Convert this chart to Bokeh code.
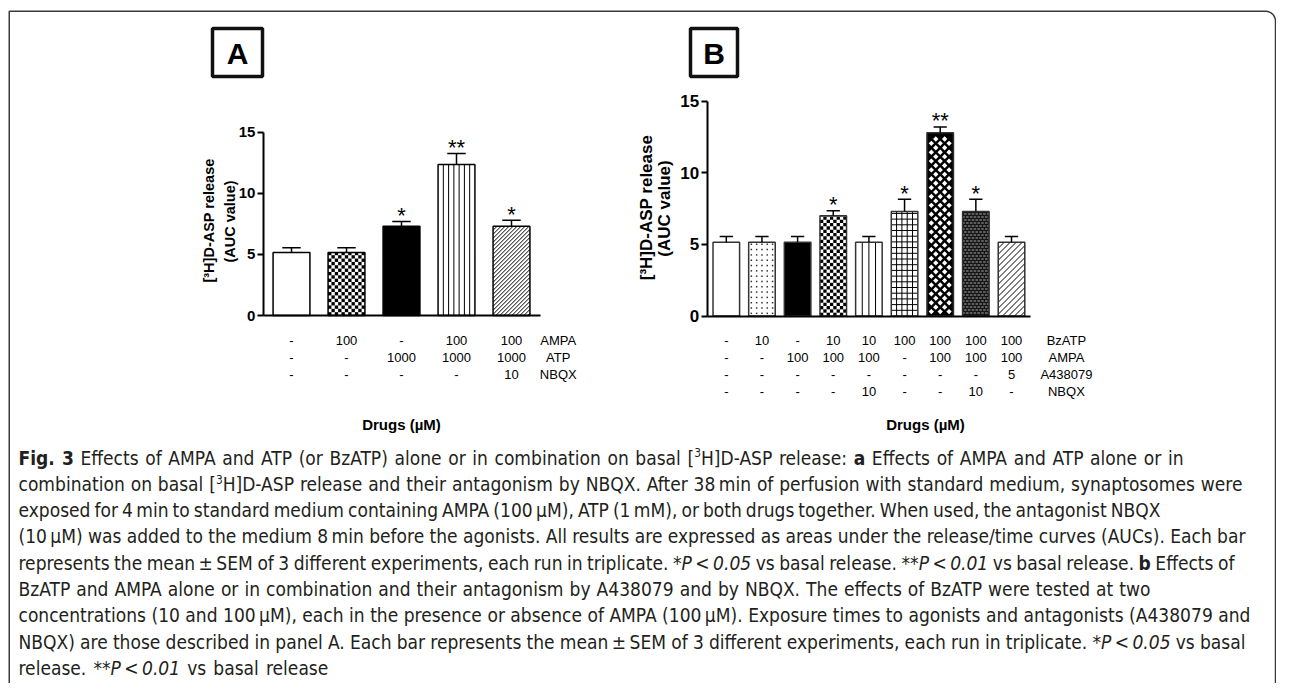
import os
import re
import subprocess
import numpy as np
from bokeh.plotting import figure
from bokeh.models import Range1d, LinearAxis, FixedTicker, ColumnDataSource
from bokeh.core.properties import value
from bokeh.embed import file_html
from bokeh.resources import INLINE

# ---------------- data ----------------
y_ticks = [0, 5, 10, 15]

a_means = [5.15, 5.15, 7.3, 12.35, 7.3]
a_sems = [0.4, 0.4, 0.4, 0.9, 0.5]
a_stars = ["", "", "*", "**", "*"]
a_row_names = ["AMPA", "ATP", "NBQX"]
a_table = [
    ["-", "100", "-", "100", "100"],
    ["-", "-", "1000", "1000", "1000"],
    ["-", "-", "-", "-", "10"],
]

b_means = [5.15, 5.15, 5.15, 7.0, 5.15, 7.3, 12.8, 7.3, 5.15]
b_sems = [0.4, 0.4, 0.4, 0.35, 0.4, 0.85, 0.4, 0.85, 0.4]
b_stars = ["", "", "", "*", "", "*", "**", "*", ""]
b_row_names = ["BzATP", "AMPA", "A438079", "NBQX"]
b_table = [
    ["-", "10", "-", "10", "10", "100", "100", "100", "100"],
    ["-", "-", "100", "100", "100", "-", "100", "100", "100"],
    ["-", "-", "-", "-", "-", "-", "-", "-", "5"],
    ["-", "-", "-", "-", "10", "-", "-", "10", "-"],
]

y_label_lines = ["[\u00b3H]D-ASP release", "(AUC value)"]
x_title = "Drugs (\u00b5M)"
panel_letters = ["A", "B"]

caption_lines = [
    [("Fig. 3", "bold"), (" Effects of AMPA and ATP (or BzATP) alone or in combination on basal [", "normal"),
     ("3", "sup"), ("H]D-ASP release: ", "normal"), ("a", "bold"), (" Effects of AMPA and ATP alone or in", "normal")],
    [("combination on basal [", "normal"), ("3", "sup"),
     ("H]D-ASP release and their antagonism by NBQX. After 38\u2009min of perfusion with standard medium, synaptosomes were", "normal")],
    [("exposed for 4\u2009min to standard medium containing AMPA (100\u2009\u00b5M), ATP (1\u2009mM), or both drugs together. When used, the antagonist NBQX", "normal")],
    [("(10\u2009\u00b5M) was added to the medium 8\u2009min before the agonists. All results are expressed as areas under the release/time curves (AUCs). Each bar", "normal")],
    [("represents the mean\u2009\u00b1\u2009SEM of 3 different experiments, each run in triplicate. ", "normal"), ("*P\u2009<\u20090.05", "italic"),
     (" vs basal release. ", "normal"), ("**P\u2009<\u20090.01", "italic"), (" vs basal release. ", "normal"), ("b", "bold"), (" Effects of", "normal")],
    [("BzATP and AMPA alone or in combination and their antagonism by A438079 and by NBQX. The effects of BzATP were tested at two", "normal")],
    [("concentrations (10 and 100\u2009\u00b5M), each in the presence or absence of AMPA (100\u2009\u00b5M). Exposure times to agonists and antagonists (A438079 and", "normal")],
    [("NBQX) are those described in panel A. Each bar represents the mean\u2009\u00b1\u2009SEM of 3 different experiments, each run in triplicate. ", "normal"),
     ("*P\u2009<\u20090.05", "italic"), (" vs basal", "normal")],
    [("release. ", "normal"), ("**P\u2009<\u20090.01", "italic"), (" vs basal release", "normal")],
]
# approximate right ends of the caption lines in the reference
caption_line_ends = [1183, 1242, 1160, 1245, 1234, 1150, 1250, 1245, 390]

# ---------------- styles ----------------
a_fills = ["white", "white", "black", "white", "white"]
a_textures = [None, ("checker", 3.5), None, ("vlines", 5.3), ("rdiag", 4.0)]
b_fills = ["white", "white", "black", "white", "white", "white", "black", "#151515", "white"]
b_textures = [None, ("dots", 5.0), None, ("checker", 3.4), ("vlines", 6.6), ("grid", 5.7),
              ("diamonds", 8.9), ("brick", 4.0), ("rdiag", 6.0)]

# ---------------- canvas ----------------
W, H = 1276, 683

p = figure(width=W, height=H, x_range=Range1d(0, W), y_range=Range1d(H, 0),
           x_axis_type=None, y_axis_type=None, output_backend="svg", toolbar_location=None,
           min_border=0, outline_line_color=None,
           background_fill_color="white", border_fill_color="white")

PANEL = {"A": dict(x0=291.0, dx=55.0, y0=315.0, dy=12.22),
         "B": dict(x0=725.8, dx=35.65, y0=315.5, dy=14.32)}


def panel_ranges(x0, dx, y0, dy):
    return Range1d(-x0 / dx, (W - x0) / dx), Range1d((y0 - H) / dy, y0 / dy)


xA, yA = panel_ranges(**PANEL["A"])
xB, yB = panel_ranges(**PANEL["B"])
p.extra_x_ranges = {"xA": xA, "xB": xB}
p.extra_y_ranges = {"yA": yA, "yB": yB}

FONT = "Liberation Sans"


def texture_marks(means, bar_w, dx, dy, specs):
    segs = dict(x0=[], y0=[], x1=[], y1=[])
    quads = dict(left=[], right=[], bottom=[], top=[])
    dots = dict(x=[], y=[])
    dias = dict(x=[], y=[])
    dashes = dict(x=[], y=[])
    for i, (m, spec) in enumerate(zip(means, specs)):
        if spec is None:
            continue
        kind, s = spec
        left = i - bar_w / 2
        Wpx, Hpx = bar_w * dx, m * dy

        def X(px):
            return left + px / dx

        def Y(py):
            return py / dy

        def seg(a, b, c, d):
            segs["x0"].append(a); segs["y0"].append(b); segs["x1"].append(c); segs["y1"].append(d)

        if kind in ("vlines", "grid"):
            n = max(1, int(round(Wpx / s)))
            for k in range(1, n):
                seg(X(k * Wpx / n), 0, X(k * Wpx / n), m)
        if kind == "grid":
            j = 1
            while j * s < Hpx - 1:
                seg(X(0), Y(j * s), X(Wpx), Y(j * s))
                j += 1
        if kind == "rdiag":
            for b in np.arange(-Hpx, Wpx, s):
                xa, xb = max(0.0, b), min(Wpx, Hpx + b)
                if xb > xa:
                    seg(X(xa), Y(xa - b), X(xb), Y(xb - b))
        if kind == "checker":
            n = max(1, int(round(Wpx / s)))
            c = Wpx / n
            j = 0
            while j * c < Hpx - 0.3:
                top = min((j + 1) * c, Hpx)
                for k in range(n):
                    if (k + j) % 2 == 0:
                        quads["left"].append(X(k * c)); quads["right"].append(X((k + 1) * c))
                        quads["bottom"].append(Y(j * c)); quads["top"].append(Y(top))
                j += 1
        if kind == "dots":
            n = max(1, int(round(Wpx / s)))
            c = Wpx / n
            j = 0
            while (j + 0.5) * c < Hpx - 1:
                for k in range(n):
                    dots["x"].append(X((k + 0.5) * c)); dots["y"].append(Y((j + 0.5) * c))
                j += 1
        if kind == "diamonds":
            n = max(1, int(round(Wpx / s)))
            pp = Wpx / n
            rowh = pp / 2
            j = 1
            while j * rowh + 2.2 < Hpx:
                cxs = [(k + 0.5) * pp for k in range(n)] if j % 2 == 1 else [k * pp for k in range(1, n)]
                for cxp in cxs:
                    dias["x"].append(X(cxp)); dias["y"].append(Y(j * rowh))
                j += 1
        if kind == "brick":
            n = max(1, int(round(Wpx / s)))
            pp = Wpx / n
            rowh = 3.0
            j = 1
            while j * rowh < Hpx - 1:
                off = 0.25 if j % 2 else 0.75
                for k in range(n):
                    dashes["x"].append(X((k + off) * pp)); dashes["y"].append(Y(j * rowh))
                j += 1
    return segs, quads, dots, dias, dashes


def draw_panel(tag, means, sems, stars, fills, specs, bar_w, outline, ax_left, ax_right, tick_font_size):
    dx, dy = PANEL[tag]["dx"], PANEL[tag]["dy"]
    rn = dict(x_range_name="x" + tag, y_range_name="y" + tag)
    xs = list(range(len(means)))
    tops = [m + s for m, s in zip(means, sems)]
    src = ColumnDataSource(dict(x=xs, top=means, err=tops, fill=fills, star=stars,
                                stary=[t + 6.0 / dy for t in tops],
                                cx0=[x - bar_w / 4 for x in xs], cx1=[x + bar_w / 4 for x in xs]))
    p.vbar(x="x", top="top", bottom=0, width=bar_w, fill_color="fill", line_color=None, source=src, **rn)

    segs, quads, dots, dias, dashes = texture_marks(means, bar_w, dx, dy, specs)
    if segs["x0"]:
        p.segment(x0="x0", y0="y0", x1="x1", y1="y1", source=ColumnDataSource(segs),
                  line_color="black", line_width=1, **rn)
    if quads["left"]:
        p.quad(left="left", right="right", bottom="bottom", top="top", source=ColumnDataSource(quads),
               fill_color="black", line_color=None, **rn)
    if dots["x"]:
        p.scatter(x="x", y="y", source=ColumnDataSource(dots), marker="square", size=1.5,
                  fill_color="#333333", line_color=None, **rn)
    if dias["x"]:
        p.scatter(x="x", y="y", source=ColumnDataSource(dias), marker="square", size=3.8, angle=np.pi / 4,
                  fill_color="white", line_color=None, **rn)
    if dashes["x"]:
        p.scatter(x="x", y="y", source=ColumnDataSource(dashes), marker="dash", size=2.6,
                  line_color="#a8a8a8", line_width=1, **rn)

    p.vbar(x="x", top="top", bottom=0, width=bar_w, fill_color=None, line_color=outline, line_width=1.5,
           source=src, **rn)
    p.segment(x0="x", y0="top", x1="x", y1="err", line_color="black", line_width=1.5, source=src, **rn)
    p.segment(x0="cx0", y0="err", x1="cx1", y1="err", line_color="black", line_width=1.5, source=src, **rn)
    p.text(x="x", y="stary", text="star", text_align="center", text_baseline="middle",
           text_font=value(FONT), text_font_size="22px", text_color="black", source=src, **rn)

    yaxis = LinearAxis(fixed_location=ax_left, bounds=(y_ticks[0], y_ticks[-1]),
                       ticker=FixedTicker(ticks=y_ticks, minor_ticks=[]),
                       axis_line_width=2, axis_line_color="black",
                       major_tick_line_width=2, major_tick_out=6, major_tick_in=0,
                       minor_tick_line_color=None, major_label_standoff=2,
                       major_label_text_font=FONT, major_label_text_font_style="bold",
                       major_label_text_font_size=tick_font_size, major_label_text_color="black", **rn)
    p.add_layout(yaxis, "left")
    xaxis = LinearAxis(fixed_location=0, bounds=(ax_left, ax_right),
                       ticker=FixedTicker(ticks=[], minor_ticks=[]),
                       axis_line_width=2, axis_line_color="black",
                       major_tick_line_color=None, minor_tick_line_color=None,
                       major_label_text_font_size="0px", **rn)
    p.add_layout(xaxis, "below")


draw_panel("A", a_means, a_sems, a_stars, a_fills, a_textures, 0.67, "black", -0.51, 4.53, "15px")
draw_panel("B", b_means, b_sems, b_stars, b_fills, b_textures, 0.745, "#333333", -0.535, 8.53, "17px")


def draw_table(tag, table, row_names, row_ys, label_x):
    xs, ys, ts = [], [], []
    for r, row in enumerate(table):
        for c, t in enumerate(row):
            xs.append(c); ys.append(row_ys[r]); ts.append(t)
    xs += [label_x] * len(row_names)
    ys += row_ys[:len(row_names)]
    ts += row_names
    p.text(x=xs, y=ys, text=ts, x_range_name="x" + tag, text_align="center", text_baseline="middle",
           text_font=value(FONT), text_font_size="13px", text_color="black")


draw_table("A", a_table, a_row_names, [340, 357, 374], 4.85)
draw_table("B", b_table, b_row_names, [340, 357, 374, 391], 9.54)

p.text(x=[401, 925], y=[424, 424], text=[x_title, x_title], text_align="center", text_baseline="middle",
       text_font=value(FONT), text_font_style="bold", text_font_size="15px", text_color="black")

p.text(x=[208, 229], y=[220, 221], text=y_label_lines, angle=np.pi / 2, text_align="center",
       text_baseline="middle", text_font=value(FONT), text_font_style="bold",
       text_font_size="14.5px", text_color="black")
p.text(x=[646, 664], y=[207, 208], text=y_label_lines, angle=np.pi / 2, text_align="center",
       text_baseline="middle", text_font=value(FONT), text_font_style="bold",
       text_font_size="17px", text_color="black")

p.quad(left=[212, 690], right=[262, 737], top=[28, 28], bottom=[76, 76], fill_color=None,
       line_color="#111111", line_width=3.5)
p.text(x=[237, 713.5], y=[53, 53], text=panel_letters, text_align="center", text_baseline="middle",
       text_font=value(FONT), text_font_style="bold", text_font_size="30px", text_color="black")

# outer frame with rounded top-right corner
r = 10.0
right_x, top_y, left_x = W - 1.0, 10.75, 8.75
cx, cy = right_x - r, top_y + r
t = np.linspace(np.pi / 2, 0, 16)
fx = [left_x, left_x] + list(cx + r * np.cos(t)) + [right_x]
fy = [H, top_y] + list(cy - r * np.sin(t)) + [H]
p.line(x=fx, y=fy, line_color="#3a3a3a", line_width=1.5)

# ---------------- caption ----------------
SUP_RATIO = 0.62


def fc_match(pattern):
    try:
        res = subprocess.run(["fc-match", "-f", "%{file}", pattern], capture_output=True, text=True, timeout=10)
        path = res.stdout.strip()
        if path and os.path.exists(path):
            return path
    except Exception:
        pass
    return None


def pick_caption_font():
    for fam, key in [("Liberation Sans Narrow", "narrow"), ("DejaVu Sans Condensed", "condensed")]:
        path = fc_match(fam)
        if path and key in os.path.basename(path).lower():
            return fam
    return "Open Sans"


CAP_FONT = pick_caption_font()

measurers = {}
try:
    from PIL import ImageFont
    for st, suffix in [("normal", ""), ("bold", ":bold"), ("italic", ":italic"), ("sup", "")]:
        path = fc_match(CAP_FONT + suffix)
        if path:
            measurers[st] = ImageFont.truetype(path, 200)
except Exception:
    measurers = {}


def seg_width(txt, style, size):
    sz = size * SUP_RATIO if style == "sup" else size
    f = measurers.get(style)
    if f is not None:
        try:
            return f.getlength(txt) * sz / 200.0
        except Exception:
            pass
    per = 0.58 if style == "bold" else 0.53
    return per * sz * len(txt)


CAP_X = 18.0


def tokens_of(segs):
    toks = []
    for text, st in segs:
        for tok in re.split(r"( +)", text):
            if tok:
                toks.append(("s" if tok.strip(" ") == "" else "w", tok, st))
    return toks


ratios = []
for segs, end in zip(caption_lines, caption_line_ends):
    w100 = sum(seg_width(tk, st, 100.0) for _, tk, st in tokens_of(segs))
    if w100 > 0:
        ratios.append((end - CAP_X) / w100 * 100.0)
cap_size = float(np.median(ratios)) if ratios else 16.0
cap_size = max(13.0, min(22.0, cap_size))

by_style = {"normal": ([], [], []), "bold": ([], [], []), "italic": ([], [], []), "sup": ([], [], [])}
center0, lead = 457.0, 26.3
for k, (segs, end) in enumerate(zip(caption_lines, caption_line_ends)):
    toks = tokens_of(segs)
    nat = sum(seg_width(tk, st, cap_size) for _, tk, st in toks)
    nsp = sum(len(tk) for kind, tk, _ in toks if kind == "s")
    spw = seg_width(" ", "normal", cap_size)
    extra = 0.0
    if nsp:
        extra = max(-0.3 * spw, min(0.3 * spw, (end - CAP_X - nat) / nsp))
    xcur = CAP_X
    yc = center0 + k * lead
    for kind, tk, st in toks:
        w = seg_width(tk, st, cap_size)
        if kind == "s":
            xcur += w + extra * len(tk)
            continue
        xs, ys, ts = by_style[st]
        xs.append(xcur)
        ys.append(yc - (cap_size * 0.24 if st == "sup" else 0))
        ts.append(tk)
        xcur += w

CAP_COLOR = "#231f20"
for st, (xs, ys, ts) in by_style.items():
    if not ts:
        continue
    fstyle = {"normal": "normal", "bold": "bold", "italic": "italic", "sup": "normal"}[st]
    fsize = cap_size * SUP_RATIO if st == "sup" else cap_size
    p.text(x=xs, y=ys, text=ts, text_align="left", text_baseline="middle",
           text_font=value(CAP_FONT), text_font_style=fstyle, text_font_size=f"{fsize:.2f}px",
           text_color=CAP_COLOR)

open("out.html", "w").write(file_html(p, INLINE))
